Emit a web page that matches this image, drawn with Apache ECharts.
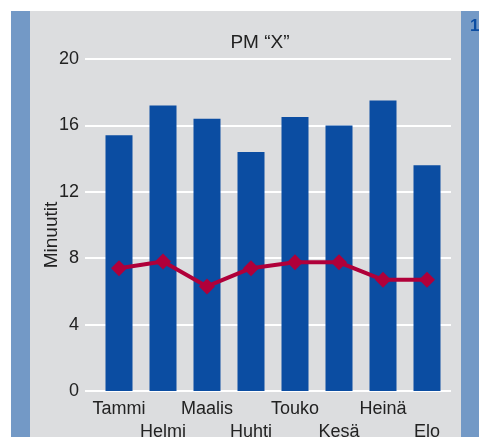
<!DOCTYPE html>
<html><head><meta charset="utf-8">
<script src="https://cdn.jsdelivr.net/npm/echarts@6/dist/echarts.min.js"></script>
<style>html,body{margin:0;padding:0;background:#fff}#c{width:479px;height:437px}</style>
</head><body><div id="c"></div>
<script>
var categories = ['Tammi','Helmi','Maalis','Huhti','Touko','Kesä','Heinä','Elo'];
var barValues = [15.4, 17.2, 16.4, 14.4, 16.5, 16.0, 17.5, 13.6];
var lineValues = [7.4, 7.8, 6.3, 7.4, 7.75, 7.75, 6.7, 6.7];
var yTicks = [0, 4, 8, 12, 16, 20];

var font = '"Liberation Sans Narrow", "Liberation Sans", Arial, sans-serif';
var chart = echarts.init(document.getElementById('c'), null, {renderer:'canvas'});
chart.setOption({
  animation:false,
  backgroundColor:'#ffffff',
  graphic:[
    {type:'rect', z:-10, shape:{x:11,y:11,width:19,height:426}, style:{fill:'#7399C6'}},
    {type:'rect', z:-10, shape:{x:30,y:11,width:431,height:426}, style:{fill:'#DCDDDF'}},
    {type:'rect', z:-10, shape:{x:461,y:11,width:18,height:426}, style:{fill:'#7399C6'}},
    {type:'text', left:470, top:18, style:{text:'1', fill:'#0B4DA2', font:'bold 17px "Liberation Sans", Arial'}}
  ],
  title:{text:'PM “X”', left:255, textAlign:'center', top:28,
    textStyle:{fontFamily:font, fontSize:19, fontWeight:'normal', color:'#222'}},
  grid:[
    {left:97, right:30, top:59, bottom:46, containLabel:false, outerBoundsMode:'none'},
    {left:85, right:28, top:59, bottom:46, containLabel:false, outerBoundsMode:'none'}
  ],
  xAxis:[
    {type:'category', gridIndex:0, data:categories,
      axisLine:{show:false}, axisTick:{show:false},
      axisLabel:{interval:0, color:'#222', fontFamily:font, fontSize:18, lineHeight:23, margin:7,
        formatter:function(v,i){return i%2 ? '\n'+v : v;}}},
    {type:'value', gridIndex:1, show:false, min:0, max:1}
  ],
  yAxis:[
    {type:'value', gridIndex:0, min:0, max:20, interval:4, show:false},
    {type:'value', gridIndex:1, min:0, max:20, interval:4,
      name:'Minuutit', nameLocation:'middle', nameGap:24, nameMoveOverlap:false,
      nameTextStyle:{fontFamily:font, fontSize:19, color:'#222', padding:[0,20,0,0]},
      axisLine:{show:false}, axisTick:{show:false},
      axisLabel:{color:'#222', fontFamily:font, fontSize:18, margin:6,
        formatter:function(v){return yTicks.indexOf(v)>=0 ? String(v) : '';}},
      splitLine:{show:true, lineStyle:{color:'#ffffff', width:2}}}
  ],
  series:[
    {type:'bar', xAxisIndex:0, yAxisIndex:0, data:barValues, barWidth:27, z:3,
      itemStyle:{color:'#0B4DA2'}},
    {type:'line', xAxisIndex:0, yAxisIndex:0, data:lineValues, z:4,
      symbol:'diamond', symbolSize:[16,16], lineStyle:{color:'#B0003A', width:4},
      itemStyle:{color:'#B0003A'}}
  ]
});
</script></body></html>
